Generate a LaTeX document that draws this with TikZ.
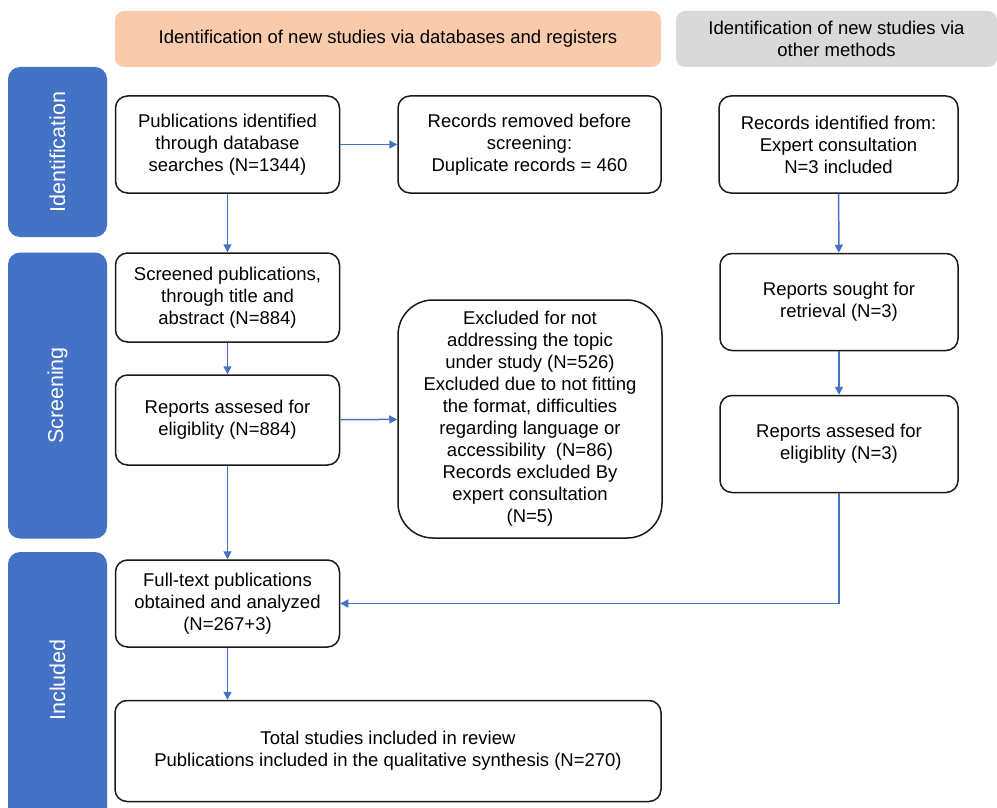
\documentclass[tikz,border=0pt]{standalone}
\usepackage{fontspec}
\setmainfont{Liberation Sans}
\usetikzlibrary{arrows.meta}
\definecolor{barblue}{HTML}{4472C4}
\definecolor{arrowblue}{HTML}{4472C4}
\definecolor{hdrorange}{HTML}{F8CBAD}
\definecolor{hdrgray}{HTML}{D9D9D9}
\definecolor{boxline}{HTML}{1A1A1A}
\begin{document}
\begin{tikzpicture}[x=1pt,y=-1pt,
  txt/.style={font=\fontsize{18.5}{22}\selectfont},
  box/.style={txt, draw=boxline, line width=1.5pt, rounded corners=12pt, fill=white, align=center, inner sep=0pt},
  hdr/.style={txt, rounded corners=9pt, align=center, inner sep=0pt},
  bar/.style={fill=barblue, rounded corners=12pt, inner sep=0pt},
  barlabel/.style={rotate=90, text=white, font=\fontsize{21.5}{25}\selectfont},
  conn/.style={draw=arrowblue, line width=1.5pt, -{Triangle[length=8pt,width=8pt]}}
]
\useasboundingbox (0,0) rectangle (997,808);
\fill[white] (0,0) rectangle (997,808);

% headers
\node[hdr, fill=hdrorange, minimum width=546pt, minimum height=56pt] (h1) at (388,39)
  {Identification of new studies via databases and registers};
\node[hdr, fill=hdrgray, minimum width=321pt, minimum height=56pt] (h2) at (836.5,39)
  {Identification of new studies via\\other methods};

% side bars
\node[bar, minimum width=99pt, minimum height=170pt] (s1) at (57.5,152) {};
\node[barlabel] (l1) at (s1) {Identification};
\node[bar, minimum width=99pt, minimum height=286pt] (s2) at (57.5,395.5) {};
\node[barlabel] (l2) at (s2) {Screening};
\begin{scope}
  \clip (0,0) rectangle (997,808);
  \node[bar, minimum width=99pt, minimum height=276pt] (s3) at (57.5,690) {};
\end{scope}
\node[barlabel] (l3) at (57.5,680) {Included};

% boxes
\node[box, minimum width=224pt, minimum height=97pt] (b1) at (227.5,144.5)
  {Publications identified\\through database\\searches (N=1344)};
\node[box, minimum width=263pt, minimum height=97pt] (b2) at (529.5,144.5)
  {Records removed before\\screening:\\Duplicate records = 460};
\node[box, minimum width=239pt, minimum height=97pt] (b3) at (838.5,144.5)
  {Records identified from:\\Expert consultation\\N=3 included};
\node[box, minimum width=224pt, minimum height=89pt] (b4) at (227.5,297.5)
  {Screened publications,\\through title and\\abstract (N=884)};
\node[box, minimum width=224pt, minimum height=90pt] (b5) at (227.5,420)
  {Reports assesed for\\eligiblity (N=884)};
\node[box, rounded corners=35pt, minimum width=264pt, minimum height=238pt] (b6) at (530,419)
  {Excluded for not\\addressing the topic\\under study (N=526)\\Excluded due to not fitting\\the format, difficulties\\regarding language or\\accessibility\ \ (N=86)\\Records excluded By\\expert consultation\\(N=5)};
\node[box, minimum width=238pt, minimum height=97pt] (b7) at (839,302)
  {Reports sought for\\retrieval (N=3)};
\node[box, minimum width=238pt, minimum height=97pt] (b8) at (839,444)
  {Reports assesed for\\eligiblity (N=3)};
\node[box, minimum width=224pt, minimum height=87pt] (b9) at (227.5,603.5)
  {Full-text publications\\obtained and analyzed\\(N=267+3)};
\node[box, minimum width=546pt, minimum height=101pt] (b10) at (388,751)
  {Total studies included in review\\Publications included in the qualitative synthesis (N=270)};

% connectors
\draw[conn] (b1) -- (b2);
\draw[conn] (b1) -- (b4);
\draw[conn] (b4) -- (b5);
\draw[conn] (b5) -- (b6);
\draw[conn] (b5) -- (b9);
\draw[conn] (b9.south) -- (b9.south |- b10.north);
\draw[conn] (b3) -- (b7);
\draw[conn] (b7) -- (b8);
\draw[conn] (b8.south) -- (b8.south |- b9.east) -- (b9.east);
\end{tikzpicture}
\end{document}
